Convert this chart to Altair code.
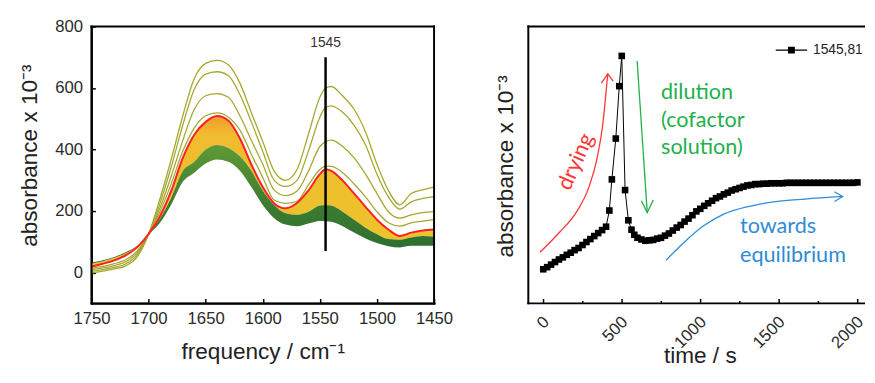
import altair as alt
import pandas as pd

# ---------------- left panel: IR spectra ----------------
FREQ = [1750, 1740, 1730, 1720, 1710, 1700, 1690, 1680, 1670, 1660, 1650, 1640, 1630, 1620, 1610, 1600,
        1590, 1580, 1570, 1560, 1550, 1545, 1540, 1530, 1520, 1510, 1500, 1490, 1480, 1470, 1460, 1450]
OLIVE_1 = [-2, 5, 12, 22, 51, 125, 240, 370, 510, 630, 680, 690, 675, 616, 520, 426,
           330, 300, 335, 450, 570, 600, 605, 574, 531, 457, 352, 267, 220, 257, 269, 278]
OLIVE_2 = [4, 10, 17, 28, 58, 125, 225, 345, 480, 595, 645, 653, 640, 579, 490, 394,
           300, 280, 300, 395, 505, 537, 542, 521, 479, 415, 320, 246, 206, 230, 241, 246]
OLIVE_3 = [9, 15, 23, 35, 64, 125, 210, 315, 430, 530, 575, 582, 570, 510, 430, 352,
           268, 250, 265, 330, 410, 426, 431, 410, 373, 320, 257, 198, 177, 188, 195, 198]
OLIVE_4 = [14, 20, 29, 42, 70, 125, 198, 290, 395, 470, 510, 519, 505, 463, 385, 309,
           236, 225, 232, 285, 335, 346, 345, 325, 288, 246, 198, 162, 151, 162, 167, 172]
RED = [20, 29, 40, 56, 82, 125, 183, 267, 373, 448, 490, 509, 494, 436, 352, 278,
       225, 209, 226, 267, 320, 336, 331, 299, 257, 214, 172, 140, 119, 130, 137, 140]
GREEN_TOP = [30, 37, 48, 63, 86, 125, 175, 245, 330, 360, 400, 415, 405, 378, 331, 267,
             220, 193, 188, 198, 218, 220, 218, 198, 172, 146, 125, 109, 107, 114, 119, 117]
GREEN_BOTTOM = [33, 40, 51, 66, 87, 124, 162, 222, 295, 325, 355, 368, 360, 331, 278, 220,
                177, 156, 151, 160, 168, 167, 165, 151, 130, 111, 96, 86, 82, 87, 87, 87]
FREQ_TICKS = [1750, 1700, 1650, 1600, 1550, 1500, 1450]
ABS_TICKS = [0, 200, 400, 600, 800]
FREQ_MIN, FREQ_MAX = 1450, 1750
ABS_MIN, ABS_MAX = -100, 800
MARK_FREQ = 1545
MARK_LOW, MARK_HIGH, MARK_LABEL_Y = 70, 700, 745

# ---------------- right panel: kinetics at 1545 ----------------
SERIES = "1545,81"
TIME = [0, 25, 50, 75, 100, 125, 150, 175, 200, 225, 250, 275, 300, 325, 350, 375, 400,
        421, 437, 462, 484, 500, 521, 542, 562,
        580, 600, 625, 650, 675, 700, 725, 750, 775, 800, 825, 850, 875, 900, 925, 950, 975,
        1000, 1025, 1050, 1075, 1100, 1125, 1150, 1175, 1200, 1225, 1250, 1275, 1300, 1325,
        1350, 1375, 1400, 1425, 1450, 1475, 1500, 1525, 1550, 1575, 1600, 1625, 1650, 1675,
        1700, 1725, 1750, 1775, 1800, 1825, 1850, 1875, 1900, 1925, 1950, 1975, 2000]
ABS = [100, 105, 111, 117, 123, 128, 134, 139, 145, 150, 157, 164, 171, 178, 185, 192, 200,
       238, 311, 407, 530, 601, 286, 215, 193,
       181, 174, 170, 167, 168, 169, 172, 174, 179, 184, 191, 198, 204, 212, 219, 227, 236,
       242, 249, 255, 261, 267, 271, 276, 280, 285, 288, 291, 294, 297, 298,
       300, 300, 301, 301, 302, 302, 302, 302, 303, 303, 303, 303, 303, 303,
       303, 303, 303, 303, 303, 303, 303, 303, 303, 303, 303, 303, 304]
TIME_TICKS = [0, 500, 1000, 1500, 2000]
TIME_MINOR = [250, 750, 1250, 1750]
TIME_MIN, TIME_MAX = -95, 2042.5
KIN_MIN, KIN_MAX = 20, 670

# annotation arrows (data units of the right panel)
ARROW_SHAFTS = {
    "drying": ([-21, 104, 209, 292, 344, 379, 400, 411], [140, 187, 233, 294, 363, 440, 516, 559], "#ff3535"),
    "dilution": ([598, 662], [589, 233], "#22b04b"),
    "equil": ([781, 896, 1021, 1146, 1313, 1479, 1667, 1906], [121, 163, 202, 229, 248, 259, 265, 271], "#2f8bd6"),
}
ARROW_HEADS = {
    "drying": ([370, 411, 445], [537, 559, 542], "#ff3535"),
    "dilution": ([625, 662, 701], [261, 233, 263], "#22b04b"),
    "equil": ([1854, 1906, 1854], [282, 271, 259], "#2f8bd6"),
}
NOTE_TEXT = ["drying", "dilution", "(cofactor", "solution)", "towards", "equilibrium"]
NOTE_T = [206, 750, 750, 750, 1253, 1253]
NOTE_A = [353, 516, 451, 386, 202, 134]
NOTE_ANGLE = [294, 0, 0, 0, 0, 0]
NOTE_ALIGN_LEFT = [False, True, True, True, True, True]
NOTE_COLOR = ["#ff3535", "#22b04b", "#22b04b", "#22b04b", "#2f8bd6", "#2f8bd6"]

W1, H1 = 349, 282
W2, H2 = 342, 282

# ---------------- build left panel ----------------
xs1 = alt.Scale(domain=[FREQ_MIN, FREQ_MAX], reverse=True, nice=False, zero=False)
ys1 = alt.Scale(domain=[ABS_MIN, ABS_MAX], nice=False, zero=False)

band = pd.DataFrame({"freq": FREQ, "red": RED, "gtop": GREEN_TOP, "gbot": GREEN_BOTTOM})
olive_rows = []
for name, vals in [("o1", OLIVE_1), ("o2", OLIVE_2), ("o3", OLIVE_3), ("o4", OLIVE_4)]:
    for f, v in zip(FREQ, vals):
        olive_rows.append({"freq": f, "value": v, "curve": name})
olive = pd.DataFrame(olive_rows)

yellow_grad = alt.LinearGradient(
    gradient="linear", x1=0, x2=0, y1=0, y2=1,
    stops=[alt.GradientStop(color="#f29a2e", offset=0),
           alt.GradientStop(color="#f1bb2f", offset=0.12),
           alt.GradientStop(color="#eac52c", offset=1)])
green_grad = alt.LinearGradient(
    gradient="linear", x1=0, x2=0, y1=0, y2=1,
    stops=[alt.GradientStop(color="#5f9a35", offset=0),
           alt.GradientStop(color="#3c7c30", offset=0.5),
           alt.GradientStop(color="#2a6a2d", offset=1)])

FRAME = dict(domain=True, domainColor="black", domainWidth=2, domainCap="square")
x_bottom1 = alt.Axis(orient="bottom", values=FREQ_TICKS, format="d", title="frequency / cm⁻¹",
                     ticks=False, labelPadding=8, labelFlush=False,
                     labelOverlap=False, titleX=174.5, titleY=49.5, titleBaseline="middle", **FRAME)
x_top1 = alt.Axis(orient="top", offset=-H1, values=FREQ_TICKS, labels=False, domain=False,
                  ticks=True, tickSize=5, tickWidth=1.5, tickColor="black", title=None)
y_left1 = alt.Axis(orient="left", values=ABS_TICKS, format="d", title="absorbance x 10⁻³",
                   ticks=False, labelPadding=9, labelFlush=False,
                   labelOverlap=False, titleX=-63, titleY=131, titleBaseline="middle", **FRAME)
y_right1 = alt.Axis(orient="right", offset=-W1, values=ABS_TICKS, labels=False, domain=False,
                    ticks=True, tickSize=4, tickWidth=1.5, tickColor="black", title=None)

# left frame: four edges taken from the scale domains
edge1_df = pd.DataFrame({"ex1": [FREQ_MAX, FREQ_MAX, FREQ_MAX, FREQ_MIN],
                         "ex2": [FREQ_MIN, FREQ_MIN, FREQ_MAX, FREQ_MIN],
                         "ey1": [ABS_MIN, ABS_MAX, ABS_MIN, ABS_MIN],
                         "ey2": [ABS_MIN, ABS_MAX, ABS_MAX, ABS_MAX]})
edges1 = alt.Chart(edge1_df).mark_rule(color="black", strokeWidth=2, strokeCap="square").encode(
    x=alt.X("ex1:Q", scale=xs1, axis=None), x2="ex2:Q",
    y=alt.Y("ey1:Q", scale=ys1, axis=None), y2="ey2:Q",
)

yellow = alt.Chart(band).mark_area(color=yellow_grad, interpolate="monotone").encode(
    x=alt.X("freq:Q", scale=xs1, axis=None),
    y=alt.Y("red:Q", scale=ys1, axis=None),
    y2="gtop:Q",
)
green = alt.Chart(band).mark_area(color=green_grad, interpolate="monotone").encode(
    x=alt.X("freq:Q", scale=xs1, axis=None),
    y=alt.Y("gtop:Q", scale=ys1, axis=None),
    y2="gbot:Q",
)
olive_lines = alt.Chart(olive).mark_line(color="#a5a82e", strokeWidth=1.3, interpolate="monotone").encode(
    x=alt.X("freq:Q", scale=xs1, axis=x_bottom1),
    y=alt.Y("value:Q", scale=ys1, axis=y_left1),
    detail="curve:N",
)
red_line = alt.Chart(band).mark_line(color="#ff2020", strokeWidth=2, interpolate="monotone").encode(
    x=alt.X("freq:Q", scale=xs1, axis=x_top1),
    y=alt.Y("red:Q", scale=ys1, axis=y_right1),
)
mark_df = pd.DataFrame({"freq": [MARK_FREQ], "lo": [MARK_LOW], "hi": [MARK_HIGH],
                        "ly": [MARK_LABEL_Y], "label": [str(MARK_FREQ)]})
rule = alt.Chart(mark_df).mark_rule(color="black", strokeWidth=2.5).encode(
    x=alt.X("freq:Q", scale=xs1, axis=None),
    y=alt.Y("lo:Q", scale=ys1, axis=None),
    y2="hi:Q",
)
rule_text = alt.Chart(mark_df).mark_text(font="Liberation Sans", fontSize=14, color="#333333",
                                         align="center", baseline="middle").encode(
    x=alt.X("freq:Q", scale=xs1, axis=None),
    y=alt.Y("ly:Q", scale=ys1, axis=None),
    text="label:N",
)

left = alt.layer(yellow, green, olive_lines, red_line, rule, rule_text, edges1).resolve_axis(
    x="independent", y="independent"
).properties(width=W1, height=H1)

# ---------------- build right panel ----------------
xs2 = alt.Scale(domain=[TIME_MIN, TIME_MAX], nice=False, zero=False)
ys2 = alt.Scale(domain=[KIN_MIN, KIN_MAX], nice=False, zero=False)

kin = pd.DataFrame({"t": TIME, "a": ABS, "series": [SERIES] * len(TIME)})

x_bottom2 = alt.Axis(orient="bottom", values=TIME_TICKS, format="d", title="time / s",
                     ticks=False, domain=False, labelAngle=315, labelAlign="right",
                     labelBaseline="middle", labelOffset=3, labelPadding=16, labelFlush=False,
                     labelOverlap=False, titleX=174.7, titleY=53.5, titleBaseline="middle")
x_top_major = alt.Axis(orient="top", offset=-H2, values=TIME_TICKS, labels=False, domain=False,
                       ticks=True, tickSize=5, tickWidth=1.5, tickColor="black", title=None)
x_top_minor = alt.Axis(orient="top", offset=-H2, values=TIME_MINOR, labels=False, domain=False,
                       ticks=True, tickSize=3, tickWidth=1.5, tickColor="black", title=None)
y_left2 = alt.Axis(orient="left", title="absorbance x 10⁻³", labels=False, ticks=False,
                   domain=False, titleX=-23.3, titleY=142, titleBaseline="middle")

kin_line = alt.Chart(kin).mark_line(color="black", strokeWidth=1).encode(
    x=alt.X("t:Q", scale=xs2, axis=x_bottom2),
    y=alt.Y("a:Q", scale=ys2, axis=y_left2),
)
kin_pts = alt.Chart(kin).mark_point(shape="square", filled=True, size=45, opacity=1).encode(
    x=alt.X("t:Q", scale=xs2, axis=x_top_major),
    y=alt.Y("a:Q", scale=ys2, axis=None),
    color=alt.Color("series:N", scale=alt.Scale(range=["black"]),
                    legend=alt.Legend(title=None, orient="none", legendX=252, legendY=8, padding=0,
                                      symbolType="M-1,-0.04H1V0.04H-1Z M-0.22,-0.22H0.22V0.22H-0.22Z",
                                      symbolSize=1024, symbolFillColor="black",
                                      symbolStrokeWidth=0, labelFont="Liberation Sans",
                                      labelFontSize=14, labelColor="#222222", labelOffset=6)),
)

shaft_rows, head_rows = [], []
for name, (ts, aa, col) in ARROW_SHAFTS.items():
    for i, (t, a) in enumerate(zip(ts, aa)):
        shaft_rows.append({"t": t, "a": a, "arrow": name, "col": col, "i": i})
for name, (ts, aa, col) in ARROW_HEADS.items():
    for i, (t, a) in enumerate(zip(ts, aa)):
        head_rows.append({"t": t, "a": a, "arrow": name, "col": col, "i": i})
shafts = alt.Chart(pd.DataFrame(shaft_rows)).mark_line(strokeWidth=1.3, interpolate="monotone").encode(
    x=alt.X("t:Q", scale=xs2, axis=x_top_minor),
    y=alt.Y("a:Q", scale=ys2, axis=None),
    stroke=alt.Stroke("col:N", scale=None),
    detail="arrow:N",
    order="i:Q",
)
heads = alt.Chart(pd.DataFrame(head_rows)).mark_line(strokeWidth=1.3).encode(
    x=alt.X("t:Q", scale=xs2, axis=None),
    y=alt.Y("a:Q", scale=ys2, axis=None),
    stroke=alt.Stroke("col:N", scale=None),
    detail="arrow:N",
    order="i:Q",
)
notes = pd.DataFrame({"text": NOTE_TEXT, "t": NOTE_T, "a": NOTE_A, "ang": NOTE_ANGLE,
                      "left": NOTE_ALIGN_LEFT, "col": NOTE_COLOR})
notes_left = alt.Chart(notes[notes["left"]]).mark_text(font="Lato", fontSize=22, align="left",
                                                       baseline="middle").encode(
    x=alt.X("t:Q", scale=xs2, axis=None),
    y=alt.Y("a:Q", scale=ys2, axis=None),
    text="text:N",
    fill=alt.Fill("col:N", scale=None),
)
notes_rot = alt.Chart(notes[~notes["left"]]).mark_text(font="Lato", fontSize=22, align="center",
                                                       baseline="middle").encode(
    x=alt.X("t:Q", scale=xs2, axis=None),
    y=alt.Y("a:Q", scale=ys2, axis=None),
    text="text:N",
    angle=alt.Angle("ang:Q", scale=None),
    fill=alt.Fill("col:N", scale=None),
)
# open frame: left, bottom and top edges (the right edge runs off the page)
frame2_df = pd.DataFrame({"x1": [TIME_MIN, TIME_MIN, TIME_MIN],
                          "x2": [TIME_MIN, TIME_MAX, TIME_MAX],
                          "y1": [KIN_MIN, KIN_MIN, KIN_MAX],
                          "y2": [KIN_MAX, KIN_MIN, KIN_MAX]})
frame2 = alt.Chart(frame2_df).mark_rule(color="black", strokeWidth=2, strokeCap="square").encode(
    x=alt.X("x1:Q", scale=xs2, axis=None), x2="x2:Q",
    y=alt.Y("y1:Q", scale=ys2, axis=None), y2="y2:Q",
)

right = alt.layer(frame2, shafts, heads, kin_line, kin_pts, notes_left, notes_rot).resolve_axis(
    x="independent", y="independent"
).properties(width=W2, height=H2)

chart = alt.hconcat(left, right, spacing=96, bounds="flush").resolve_scale(
    color="independent"
).properties(
    padding={"left": 10, "top": 5.5, "right": 0, "bottom": -2}
).configure_view(stroke="transparent").configure_axis(
    grid=False,
    labelFont="Liberation Sans", labelFontSize=17, labelColor="#2b2b2b",
    titleFont="Liberation Sans", titleFontSize=23, titleFontWeight="normal", titleColor="#222222",
)

chart.save("out.html", embed_options={"renderer": "svg", "actions": False})
